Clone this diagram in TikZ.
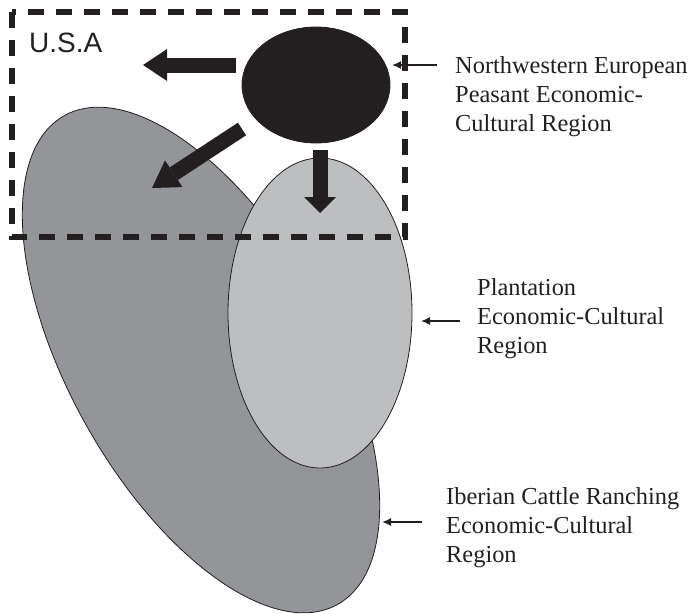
\documentclass[tikz,border=0pt]{standalone}
\usepackage{fontspec}
\setmainfont{Liberation Serif}
\setsansfont{Liberation Sans}
\usetikzlibrary{arrows.meta, positioning, shapes.geometric}
\definecolor{inkblack}{HTML}{231F20}
\definecolor{ranchgray}{HTML}{939598}
\definecolor{plantgray}{HTML}{BCBEC0}

\begin{document}
\begin{tikzpicture}[
    x=1pt, y=-1pt,
    region/.style={
        ellipse,
        draw=inkblack,
        line width=0.8pt,
        inner sep=0pt
    },
    regiontext/.style={
        align=left,
        inner sep=0pt,
        text=inkblack,
        font=\fontsize{24.4}{29}\selectfont
    },
    flow/.style={draw=inkblack, line width=15pt},
    pointer/.style={-{Latex[length=9pt, width=8pt]}, draw=inkblack, line width=1.5pt},
    frame/.style={draw=inkblack, line width=5.5pt, dash pattern=on 16pt off 12pt}
]
\useasboundingbox (0,0) rectangle (690,613);

\node[region, fill=ranchgray, rotate=-60.8, minimum width=560pt, minimum height=264pt] (ranch) at (201,360) {};
\node[region, fill=plantgray, minimum width=184pt, minimum height=310pt] (plant) at (320,313) {};
\node[region, fill=inkblack, minimum width=148pt, minimum height=116pt] (peasant) at (316,85) {};

\coordinate (westtail) at (236,65);
\coordinate (westhead) at (143,65);
\coordinate (southwesttail) at (242,129);
\coordinate (southwesthead) at (152,188);
\coordinate (southtail) at (320,150);
\coordinate (southhead) at (320,213);

\draw[flow, -{Triangle[length=24pt, width=32pt, line width=0pt]}] (westtail) -- (westhead);
\draw[flow, -{Triangle[length=26pt, width=32pt, line width=0pt]}] (southwesttail) -- (southwesthead);
\draw[flow, -{Triangle[length=16pt, width=32pt, line width=0pt]}] (southtail) -- (southhead);

\draw[frame] (12,12) rectangle (405,237);
\node[anchor=base west, inner sep=0pt, text=inkblack, font=\sffamily\fontsize{28}{30}\selectfont] (usa) at (29,52) {U.S.A};

\node[regiontext, anchor=north west] (peasanttext) at (455,56) {Northwestern European\\Peasant Economic-\\Cultural Region};
\node[regiontext, anchor=north west] (planttext) at (477,278) {Plantation\\Economic-Cultural\\Region};
\node[regiontext, anchor=north west] (ranchtext) at (446,487) {Iberian Cattle Ranching\\Economic-Cultural\\Region};

\coordinate (peasanttip) at (392,65);
\coordinate (planttip) at (421,321);
\coordinate (ranchtip) at (382,522);

\draw[pointer, shorten <=18pt] (peasanttext.west |- peasanttip) -- (peasanttip);
\draw[pointer, shorten <=17pt] (planttext.west |- planttip) -- (planttip);
\draw[pointer, shorten <=24pt] (ranchtext.west |- ranchtip) -- (ranchtip);
\end{tikzpicture}
\end{document}
